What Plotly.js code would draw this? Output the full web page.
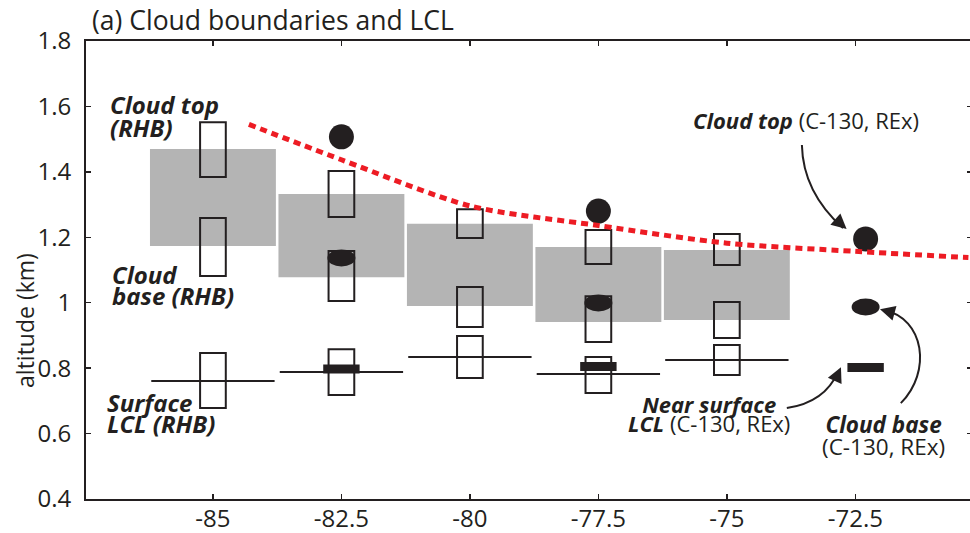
<!DOCTYPE html>
<html>
<head>
<meta charset="utf-8">
<script src="https://cdn.plot.ly/plotly-3.0.1.min.js"></script>
<style>
  html, body { margin: 0; padding: 0; overflow: hidden; background: #fff; }
  #chart { width: 976px; height: 533px; }
</style>
</head>
<body>
<div id="chart"></div>
<script>
// Longitude bins (deg) for the RHB ship statistics
const lonBins = [-85, -82.5, -80, -77.5, -75];
const lonTickVals = [-85, -82.5, -80, -77.5, -75, -72.5];
const lonTickText = ['-85', '-82.5', '-80', '-77.5', '-75', '-72.5'];
const altTickVals = [0.4, 0.6, 0.8, 1.0, 1.2, 1.4, 1.6, 1.8];
const altTickText = ['0.4', '0.6', '0.8', '1', '1.2', '1.4', '1.6', '1.8'];

// Shaded cloud layer (km)
const layerBottom = [1.173, 1.078, 0.990, 0.941, 0.947];
const layerTop    = [1.470, 1.332, 1.241, 1.170, 1.161];

// RHB cloud top range (km)
const topLow  = [1.384, 1.262, 1.198, 1.118, 1.115];
const topHigh = [1.552, 1.403, 1.286, 1.222, 1.210];

// RHB cloud base range (km)
const baseLow  = [1.082, 1.005, 0.926, 0.880, 0.892];
const baseHigh = [1.259, 1.158, 1.048, 1.020, 1.002];

// RHB surface LCL range and mean (km)
const lclLow  = [0.678, 0.718, 0.770, 0.724, 0.779];
const lclHigh = [0.846, 0.858, 0.898, 0.834, 0.871];
const lclMean = [0.761, 0.788, 0.834, 0.782, 0.825];

// C-130 (REx) aircraft estimates
const c130Lon   = [-82.5, -77.5, -72.3];
const c130Top   = [1.507, 1.280, 1.195];
const c130Base  = [1.137, 0.999, 0.987];
const c130Lcl   = [0.797, 0.805, 0.802];

// Cloud-top trend curve
const trendLon = [-84.3, -82.5, -80.0, -77.5, -75.0, -72.5, -70.3];
const trendAlt = [1.545, 1.437, 1.296, 1.236, 1.182, 1.157, 1.138];

const ink = '#231f20';
const shade = '#b4b4b4';
const red = '#ed1c24';

function rangeBars(lo, hi, width, fill, lineWidth) {
  return {
    type: 'bar',
    x: lonBins,
    base: lo,
    y: hi.map((h, i) => h - lo[i]),
    width: width,
    marker: { color: fill, line: { color: ink, width: lineWidth } },
    hoverinfo: 'skip',
    showlegend: false
  };
}

const traces = [
  rangeBars(layerBottom, layerTop, 2.45, shade, 0),
  rangeBars(topLow, topHigh, 0.5, 'rgba(0,0,0,0)', 2),
  rangeBars(baseLow, baseHigh, 0.5, 'rgba(0,0,0,0)', 2),
  rangeBars(lclLow, lclHigh, 0.5, 'rgba(0,0,0,0)', 2),
  {
    // mean surface LCL as a horizontal bar across each bin
    type: 'scatter', mode: 'markers',
    x: lonBins, y: lclMean,
    marker: { size: 1, color: 'rgba(0,0,0,0)' },
    error_x: { type: 'constant', value: 1.2, width: 0, thickness: 2, color: ink },
    hoverinfo: 'skip', showlegend: false
  },
  {
    type: 'scatter', mode: 'markers',
    x: c130Lon, y: c130Lcl,
    marker: { symbol: 'line-ew', size: 26, line: { width: 9, color: ink } },
    hoverinfo: 'skip', showlegend: false
  },
  {
    type: 'scatter', mode: 'markers',
    x: c130Lon, y: c130Top,
    marker: { symbol: 'circle', size: 25, color: ink, line: { width: 0 } },
    hoverinfo: 'skip', showlegend: false
  },
  {
    type: 'scatter', mode: 'lines',
    x: trendLon, y: trendAlt,
    line: { shape: 'spline', smoothing: 0.8, color: red, width: 5, dash: '7px,5px' },
    hoverinfo: 'skip', showlegend: false
  }
];

// C-130 cloud base drawn as a rounded pill
const shapes = c130Lon.map((lon, i) => ({
  type: 'circle', layer: 'above',
  xref: 'x', yref: 'y',
  xsizemode: 'pixel', ysizemode: 'pixel',
  xanchor: lon, yanchor: c130Base[i],
  x0: -14, x1: 14, y0: -8.5, y1: 8.5,
  fillcolor: ink, line: { width: 0 }
}));

// Curved leader lines for the C-130 labels
const leaders = [
  'M-73.54,1.482 Q-73.52,1.338 -72.74,1.228',
  'M-71.615,0.693 C-71.01,0.788 -71.15,0.953 -71.95,0.978',
  'M-73.833,0.678 Q-73.093,0.696 -72.84,0.788'
];
leaders.forEach(p => shapes.push({
  type: 'path', xref: 'x', yref: 'y', path: p,
  line: { color: ink, width: 2 }, layer: 'above'
}));

// Line spacing (em) wanted for each two-line label, keyed by annotation index
const lineGap = {};

function label(text, x, yTop, xanchor, size, gap) {
  if (gap) lineGap[annotations.length] = gap;
  annotations.push({
    text: text, x: x, y: yTop, xref: 'x', yref: 'y',
    xanchor: xanchor, yanchor: 'top', align: xanchor === 'left' ? 'left' : 'center',
    showarrow: false,
    font: { family: 'Open Sans, sans-serif', size: size, color: ink },
    borderpad: 0, borderwidth: 0
  });
}
function head(x, y, ax, ay) {
  annotations.push({
    text: '', x: x, y: y, xref: 'x', yref: 'y', ax: ax, ay: ay,
    showarrow: true, arrowhead: 2, arrowsize: 1.5, arrowwidth: 2,
    arrowcolor: ink, standoff: 0
  });
}

const annotations = [];
label('<b><i>Cloud top<br>(RHB)</i></b>', -87.004, 1.655, 'left', 24, 0.96);
label('<b><i>Cloud<br>base (RHB)</i></b>', -86.965, 1.138, 'left', 24, 0.875);
label('<b><i>Surface<br>LCL (RHB)</i></b>', -87.06, 0.744, 'left', 24, 0.875);
label('<b><i>Cloud top</i></b> (C-130, REx)', -73.463, 1.605, 'center', 22);
label('<b><i>Near surface</i></b><br><b><i>LCL</i></b> (C-130, REx)', -75.34, 0.737, 'center', 22, 0.86);
label('<b><i>Cloud base</i></b><br>(C-130, REx)', -71.95, 0.674, 'center', 22.5, 0.98);
head(-72.67, 1.225, -9, -8);
head(-72.02, 0.980, 11, 3);
head(-72.78, 0.803, -5, 11);
annotations.push({
  text: 'altitude (km)', xref: 'paper', yref: 'y',
  x: -0.069, y: 0.947, textangle: -90, showarrow: false,
  xanchor: 'center', yanchor: 'middle',
  font: { family: 'Open Sans, sans-serif', size: 23, color: ink }
});

const axisCommon = {
  ticks: 'inside', ticklen: 5, tickwidth: 1.5, tickcolor: ink,
  showline: true, linecolor: ink, linewidth: 2, mirror: 'ticks',
  showgrid: false, zeroline: false, fixedrange: true,
  tickfont: { family: 'Open Sans, sans-serif', size: 24, color: ink }
};

const layout = {
  width: 976, height: 533,
  margin: { l: 86, r: 4, t: 41, b: 34 },
  paper_bgcolor: '#fff', plot_bgcolor: '#fff',
  font: { family: 'Open Sans, sans-serif', color: ink },
  barmode: 'overlay',
  showlegend: false,
  title: {
    text: '(a) Cloud boundaries and LCL',
    font: { family: 'Open Sans, sans-serif', size: 26.5, color: ink },
    xref: 'paper', x: 0.0068, xanchor: 'left',
    yref: 'container', y: 1 - 21 / 533, yanchor: 'middle'
  },
  xaxis: Object.assign({}, axisCommon, {
    range: [-87.47, -70.23],
    tickmode: 'array', tickvals: lonTickVals, ticktext: lonTickText,
    ticklabelstandoff: -3
  }),
  yaxis: Object.assign({}, axisCommon, {
    range: [0.4, 1.8],
    tickmode: 'array', tickvals: altTickVals, ticktext: altTickText,
    ticklabelstandoff: 8
  }),
  shapes: shapes,
  annotations: annotations
};

const gd = document.getElementById('chart');
Plotly.newPlot(gd, traces, layout, { staticPlot: true, displayModeBar: false }).then(() => {
  // tighten the spacing between the two lines of each stacked label
  gd.querySelectorAll('g.annotation').forEach(g => {
    const gap = lineGap[g.getAttribute('data-index')];
    if (!gap) return;
    g.querySelectorAll('tspan.line').forEach((ln, i) => {
      if (i > 0) ln.setAttribute('dy', gap + 'em');
    });
  });
});
</script>
</body>
</html>
